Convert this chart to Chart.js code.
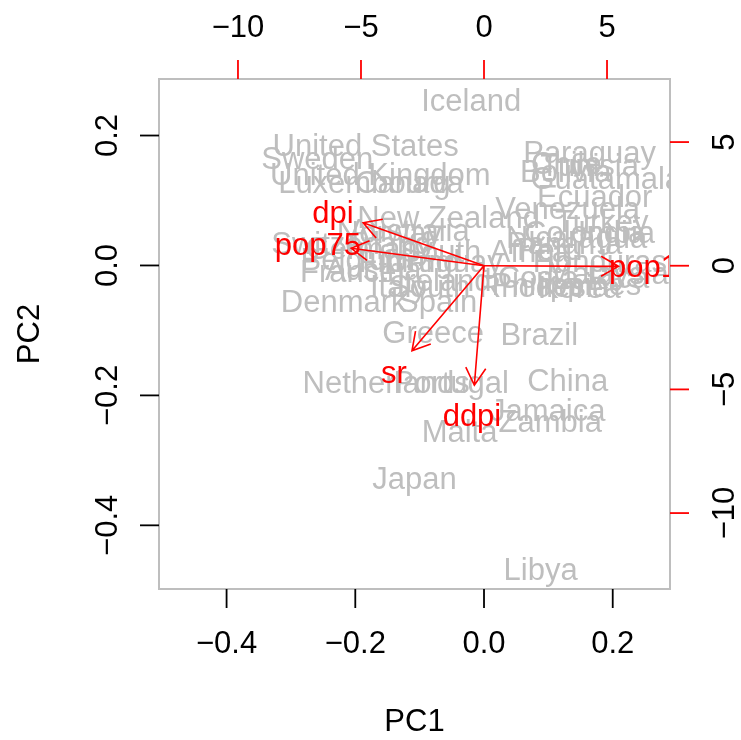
<!DOCTYPE html>
<html>
<head>
<meta charset="utf-8">
<script src="https://cdn.jsdelivr.net/npm/chart.js@4.4.1/dist/chart.umd.min.js"></script>
<style>
  html, body { margin: 0; padding: 0; background: #fff; }
  #wrap { width: 741px; height: 740px; }
</style>
</head>
<body>
<div id="wrap"><canvas id="chart" width="741" height="740"></canvas></div>
<script>
// country scores (PC1, PC2)
const countries = [
  "Iceland", "United States", "Sweden", "United Kingdom", "Luxembourg", "Canada",
  "Paraguay", "Chile", "Tunisia", "Bolivia", "Guatamala", "Ecuador", "Venezuela",
  "Turkey", "Colombia", "Nicaragua", "India", "Panama", "Peru", "Honduras",
  "Malaysia", "Costa Rica", "Philippines", "Korea", "Brazil", "China", "Jamaica",
  "Zambia", "Libya",
  "New Zealand", "Norway", "Australia", "Switzerland", "Germany", "South Africa",
  "Uruguay", "Belgium", "Finland", "France", "Austria", "Ireland", "Italy",
  "South Rhodesia", "Denmark", "Spain", "Greece", "Netherlands", "Portugal",
  "Malta", "Japan"
];
const pc1 = [
  -0.020, -0.184, -0.259, -0.161, -0.186, -0.116,
  0.164, 0.128, 0.164, 0.127, 0.190, 0.172, 0.130,
  0.183, 0.164, 0.144, 0.198, 0.125, 0.102, 0.180,
  0.192, 0.139, 0.128, 0.148, 0.086, 0.130, 0.099,
  0.103, 0.088,
  -0.055, -0.147, -0.116, -0.206, -0.178, 0.001,
  -0.062, -0.198, -0.116, -0.211, -0.172, -0.062, -0.133,
  0.024, -0.218, -0.072, -0.079, -0.152, -0.051,
  -0.038, -0.108
];
const pc2 = [
  0.255, 0.185, 0.165, 0.140, 0.128, 0.128,
  0.174, 0.158, 0.154, 0.145, 0.135, 0.106, 0.088,
  0.068, 0.051, 0.043, 0.051, 0.035, 0.025, 0.006,
  -0.012, -0.018, -0.029, -0.034, -0.106, -0.177, -0.222,
  -0.240, -0.468,
  0.074, 0.052, 0.054, 0.034, 0.026, 0.022,
  0.006, 0.009, 0.006, -0.008, -0.006, -0.022, -0.032,
  -0.032, -0.055, -0.055, -0.103, -0.180, -0.180,
  -0.255, -0.328
];

// variable loadings (top / right axes)
const variables = ["sr", "pop15", "pop75", "dpi", "ddpi"];
const loadX = [-3.66, 6.83, -6.75, -6.14, -0.49];
const loadY = [-4.30, -0.03, 0.88, 2.17, -6.04];

// tick labels
const xTicks = [-0.4, -0.2, 0.0, 0.2];
const xTickLabels = ["\u22120.4", "\u22120.2", "0.0", "0.2"];
const yTicks = [-0.4, -0.2, 0.0, 0.2];
const yTickLabels = ["\u22120.4", "\u22120.2", "0.0", "0.2"];
const topTicks = [-10, -5, 0, 5];
const topTickLabels = ["\u221210", "\u22125", "0", "5"];
const rightTicks = [-10, -5, 0, 5];
const rightTickLabels = ["\u221210", "\u22125", "0", "5"];

const FONT_SIZE = 31;
const FONT = FONT_SIZE + 'px "Liberation Sans", Arial, sans-serif';
const CAP = FONT_SIZE * 0.35; // shift so text is centred on half cap height, like R
const GREY = "#BEBEBE";
const RED = "#FF0000";

function rotatedText(ctx, txt, cx, cy) {
  ctx.save();
  ctx.translate(cx, cy);
  ctx.rotate(-Math.PI / 2);
  ctx.fillText(txt, 0, CAP);
  ctx.restore();
}

const biplot = {
  id: "biplot",
  afterDatasetsDraw(chart) {
    const { ctx, chartArea: a, scales } = chart;
    const { x, y, x2, y2 } = scales;
    ctx.save();
    ctx.font = FONT;
    ctx.textAlign = "center";
    ctx.textBaseline = "alphabetic";

    // everything inside the box is clipped, as in R
    ctx.save();
    ctx.beginPath();
    ctx.rect(a.left, a.top, a.right - a.left, a.bottom - a.top);
    ctx.clip();

    ctx.fillStyle = GREY;
    chart.getDatasetMeta(0).data.forEach((pt, i) => {
      ctx.fillText(countries[i], pt.x, pt.y + CAP);
    });

    // arrows go to 0.8 of the loading, labels sit at the loading
    const ox = x2.getPixelForValue(0), oy = y2.getPixelForValue(0);
    ctx.strokeStyle = RED;
    ctx.lineWidth = 1.6;
    const head = 20, ang = Math.PI / 6;
    loadX.forEach((lx, i) => {
      const tx = x2.getPixelForValue(lx * 0.8);
      const ty = y2.getPixelForValue(loadY[i] * 0.8);
      const t = Math.atan2(ty - oy, tx - ox);
      ctx.beginPath();
      ctx.moveTo(ox, oy);
      ctx.lineTo(tx, ty);
      ctx.moveTo(tx - head * Math.cos(t - ang), ty - head * Math.sin(t - ang));
      ctx.lineTo(tx, ty);
      ctx.lineTo(tx - head * Math.cos(t + ang), ty - head * Math.sin(t + ang));
      ctx.stroke();
    });
    ctx.fillStyle = RED;
    chart.getDatasetMeta(1).data.forEach((pt, i) => {
      ctx.fillText(variables[i], pt.x, pt.y + CAP);
    });
    ctx.restore();

    // box
    ctx.strokeStyle = GREY;
    ctx.lineWidth = 2;
    ctx.strokeRect(a.left, a.top, a.right - a.left, a.bottom - a.top);

    const tl = 19, lab = 53, ttl = 131;
    ctx.lineWidth = 1.8;

    // bottom axis
    ctx.strokeStyle = "#000";
    ctx.fillStyle = "#000";
    xTicks.forEach((v, i) => {
      const px = x.getPixelForValue(v);
      ctx.beginPath(); ctx.moveTo(px, a.bottom); ctx.lineTo(px, a.bottom + tl); ctx.stroke();
      ctx.fillText(xTickLabels[i], px, a.bottom + lab + CAP);
    });
    // left axis
    yTicks.forEach((v, i) => {
      const py = y.getPixelForValue(v);
      ctx.beginPath(); ctx.moveTo(a.left, py); ctx.lineTo(a.left - tl, py); ctx.stroke();
      rotatedText(ctx, yTickLabels[i], a.left - lab, py);
    });
    // top axis
    ctx.strokeStyle = RED;
    topTicks.forEach((v, i) => {
      const px = x2.getPixelForValue(v);
      ctx.beginPath(); ctx.moveTo(px, a.top); ctx.lineTo(px, a.top - tl); ctx.stroke();
      ctx.fillText(topTickLabels[i], px, a.top - lab + CAP);
    });
    // right axis
    rightTicks.forEach((v, i) => {
      const py = y2.getPixelForValue(v);
      ctx.beginPath(); ctx.moveTo(a.right, py); ctx.lineTo(a.right + tl, py); ctx.stroke();
      rotatedText(ctx, rightTickLabels[i], a.right + lab, py);
    });

    // axis titles
    ctx.fillText("PC1", (a.left + a.right) / 2, a.bottom + ttl + CAP);
    rotatedText(ctx, "PC2", a.left - ttl, (a.top + a.bottom) / 2);

    ctx.restore();
  }
};

new Chart(document.getElementById("chart"), {
  type: "scatter",
  data: {
    datasets: [
      {
        label: "countries",
        data: pc1.map((v, i) => ({ x: v, y: pc2[i] })),
        xAxisID: "x", yAxisID: "y",
        pointRadius: 0, pointHoverRadius: 0
      },
      {
        label: "variables",
        data: loadX.map((v, i) => ({ x: v, y: loadY[i] })),
        xAxisID: "x2", yAxisID: "y2",
        pointRadius: 0, pointHoverRadius: 0
      }
    ]
  },
  options: {
    responsive: false,
    animation: false,
    devicePixelRatio: 1,
    layout: { padding: { left: 159, right: 71, top: 79, bottom: 151 } },
    plugins: { legend: { display: false }, tooltip: { enabled: false } },
    scales: {
      x: { type: "linear", position: "bottom", min: -0.505, max: 0.289, display: false },
      y: { type: "linear", position: "left", min: -0.498, max: 0.287, display: false },
      x2: { type: "linear", position: "top", min: -13.21, max: 7.56, display: false },
      y2: { type: "linear", position: "right", min: -13.07, max: 7.55, display: false }
    }
  },
  plugins: [biplot]
});
</script>
</body>
</html>
